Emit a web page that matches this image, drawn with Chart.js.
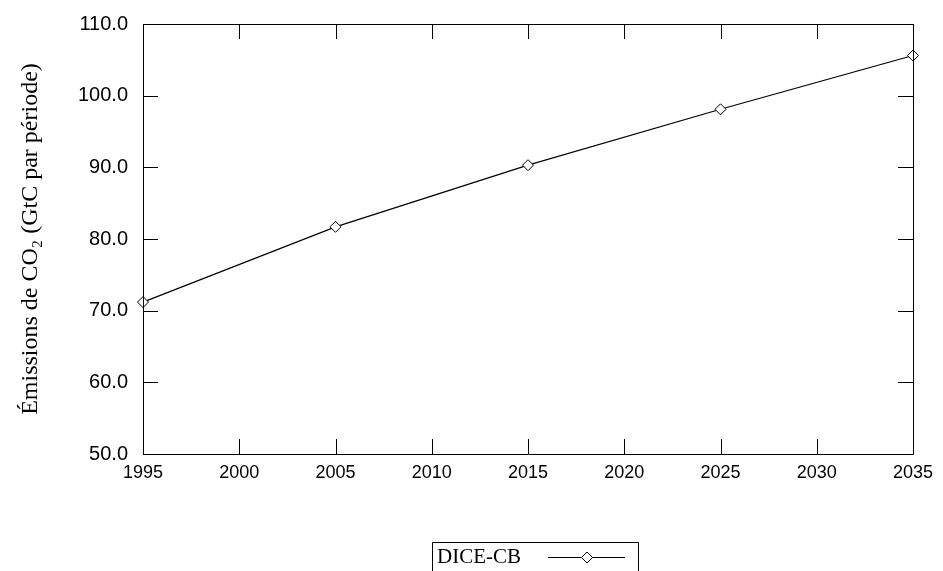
<!DOCTYPE html>
<html>
<head>
<meta charset="utf-8">
<script src="https://cdn.jsdelivr.net/npm/chart.js@4"></script>
<style>
  html, body { margin: 0; padding: 0; background: #fff; }
  #wrap { width: 943px; height: 571px; }
</style>
</head>
<body>
<div id="wrap"><canvas id="EmissionsChart" width="943" height="571"></canvas></div>
<script>
var years = [1995, 2005, 2015, 2025, 2035];
var emissions = [71.2, 81.7, 90.3, 98.1, 105.6];
var seriesLabel = 'DICE-CB';
var yTitle = 'Émissions de CO₂ (GtC par période)';

// frame with inward ticks on all four sides (gnuplot style) + legend box
var framePlugin = {
    id: 'frame',
    afterDraw: function (chart) {
        var ctx = chart.ctx, a = chart.chartArea;
        var xs = chart.scales.x, ys = chart.scales.y, len = 15;
        ctx.save();
        ctx.strokeStyle = '#000';
        ctx.lineWidth = 1;
        ctx.beginPath();
        ctx.rect(a.left + 0.5, a.top + 0.5, a.right - a.left, a.bottom - a.top);
        xs.ticks.forEach(function (t) {
            var px = Math.round(xs.getPixelForValue(t.value)) + 0.5;
            ctx.moveTo(px, a.bottom); ctx.lineTo(px, a.bottom - len);
            ctx.moveTo(px, a.top); ctx.lineTo(px, a.top + len);
        });
        ys.ticks.forEach(function (t) {
            var py = Math.round(ys.getPixelForValue(t.value)) + 0.5;
            ctx.moveTo(a.left, py); ctx.lineTo(a.left + len, py);
            ctx.moveTo(a.right, py); ctx.lineTo(a.right - len, py);
        });
        ctx.stroke();

        // legend: text first, then line sample with marker
        var ds = chart.data.datasets[0];
        ctx.beginPath();
        ctx.rect(432.5, 542.5, 206, 40);
        ctx.stroke();
        ctx.fillStyle = '#000';
        ctx.font = '21px "Liberation Serif"';
        ctx.textBaseline = 'alphabetic';
        ctx.fillText(ds.label, 437, 563);
        ctx.beginPath();
        ctx.moveTo(548, 557.5); ctx.lineTo(625, 557.5);
        ctx.stroke();
        ctx.fillStyle = '#fff';
        ctx.beginPath();
        ctx.moveTo(587, 552); ctx.lineTo(592.5, 557.5); ctx.lineTo(587, 563); ctx.lineTo(581.5, 557.5); ctx.closePath();
        ctx.fill(); ctx.stroke();
        ctx.restore();
    }
};

new Chart(document.getElementById('EmissionsChart'), {
    type: 'line',
    data: {
        datasets: [
            {
                label: seriesLabel,
                data: years.map(function (y, i) { return { x: y, y: emissions[i] }; }),
                borderColor: '#000',
                borderWidth: 1.2,
                pointStyle: 'rectRot',
                pointRadius: 5.5,
                pointBorderWidth: 1,
                pointBorderColor: '#000',
                pointBackgroundColor: '#fff',
                tension: 0,
                clip: false
            }
        ]
    },
    options: {
        responsive: false,
        animation: false,
        layout: { padding: { left: 0, right: 30, top: 24, bottom: 0 } },
        plugins: {
            legend: { display: false },
            tooltip: { enabled: false }
        },
        scales: {
            x: {
                type: 'linear',
                min: 1995,
                max: 2035,
                grid: { display: false, drawTicks: false },
                border: { display: false },
                ticks: {
                    stepSize: 5,
                    color: '#000',
                    padding: 8,
                    font: { family: '"Liberation Sans"', size: 18 },
                    callback: function (v) { return String(v); }
                },
                afterFit: function (s) { s.height = 117; s.paddingLeft = 0; s.paddingRight = 0; }
            },
            y: {
                min: 50,
                max: 110,
                grid: { display: false, drawTicks: false },
                border: { display: false },
                ticks: {
                    stepSize: 10,
                    color: '#000',
                    padding: 15,
                    font: { family: '"Liberation Sans"', size: 20 },
                    callback: function (v) { return v.toFixed(1); }
                },
                title: {
                    display: true,
                    text: yTitle,
                    color: '#000',
                    padding: { top: 16, bottom: 0 },
                    font: { family: '"Liberation Serif"', size: 24 }
                },
                afterFit: function (s) { s.width = 143; s.paddingTop = 0; s.paddingBottom = 0; }
            }
        }
    },
    plugins: [framePlugin]
});
</script>
</body>
</html>
